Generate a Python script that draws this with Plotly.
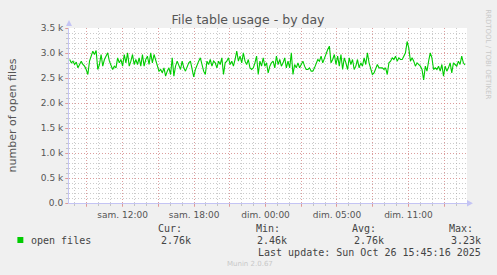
import plotly.graph_objects as go

# ---- data ----
# open files, sampled roughly every 8.3 minutes
values = [
    2870, 2803, 2837, 2770, 2817, 2703, 2770, 2837, 2770, 2737, 2670, 2570, 2837, 2937, 3037, 2970,
    3050, 2670, 2770, 2970, 2737, 2870, 2937, 3003, 2837, 2770, 2670, 2737, 2703, 2903, 2803, 2870,
    2737, 2970, 2803, 3003, 2737, 2837, 2970, 2770, 2870, 2770, 2903, 2737, 2970, 2737, 2870, 2937,
    2770, 3003, 2803, 2970, 2870, 2737, 2637, 2670, 2603, 2703, 2537, 2637, 2703, 2570, 2903, 2537,
    2737, 2837, 2737, 2670, 2837, 2703, 2637, 2737, 2803, 2837, 2703, 2523, 2670, 2770, 2837, 2903,
    2737, 2637, 2570, 2837, 2770, 2870, 2737, 2837, 2803, 2703, 2837, 2770, 2903, 2570, 2803, 2837,
    2903, 2770, 2837, 2737, 2870, 3037, 2837, 2937, 2803, 3003, 2837, 2770, 2870, 2703, 2670,
    2703, 2803, 2937, 2570, 2837, 2737, 2903, 2737, 2803, 2603, 2737, 2803, 2837, 2703, 2937, 2770,
    2870, 2737, 2803, 2903, 2703, 2837, 2703, 3003, 2570, 2770, 2703, 2803, 2703, 2770, 2837, 2737,
    2670, 2670, 2703, 2637, 2637, 2703, 2803, 2870, 2837, 2937, 2803, 2903, 2970, 3070, 3137, 2803,
    2870, 2970, 2770, 2937, 2737, 2970, 2670, 2903, 2803, 2670, 2903, 2770, 2870, 2670, 2737, 2870,
    2703, 2803, 2737, 2903, 2770, 3003, 2803, 2703, 2570, 2603, 2703, 2770, 2703, 2703, 2703, 2670,
    2703, 2570, 2803, 2837, 2903, 2870, 2937, 2837, 2903, 2870, 2870, 2937, 3003, 3230, 3103, 2837,
    2903, 2837, 2737, 2803, 2770, 2737, 2670, 2460, 2737, 2637, 2837, 3003, 2903, 2670, 2703, 2670,
    2737, 2637, 2770, 2537, 2737, 2637, 2703, 2803, 2603, 2803, 2770, 2737, 2837, 2770, 2937, 2803,
    2760,
]
start_hour = -4.444          # hours relative to "sam. 12:00"
step_hour = 1 / 7.2          # sample spacing in hours
hours = [start_hour + i * step_hour for i in range(len(values))]

tick_hours = [-3, 0, 3, 6, 9, 12, 15, 18, 21, 24, 27]
tick_labels = ["", "sam. 12:00", "", "sam. 18:00", "", "dim. 00:00", "", "dim. 05:00", "", "dim. 11:00", ""]
y_ticks = [0, 500, 1000, 1500, 2000, 2500, 3000, 3500]
y_labels = ["0.0", "0.5 k", "1.0 k", "1.5 k", "2.0 k", "2.5 k", "3.0 k", "3.5 k"]

series_name = "open files"
stat_names = ["Cur:", "Min:", "Avg:", "Max:"]
stat_values = ["2.76k", "2.46k", "2.76k", "3.23k"]
last_update = "Last update: Sun Oct 26 15:45:16 2025"

# ---- layout geometry ----
W, H = 497, 275
ML, MR, MT, MB = 66, 30, 28, 72
PW, PH = W - ML - MR, H - MT - MB


def px(x):
    return (x - ML) / PW


def py(y):
    return 1 - (y - MT) / PH


GREEN = "#00CC00"
AXIS = "#c4c4f4"
MAJ = "rgba(235,120,120,0.55)"
MIN = "rgba(160,160,160,0.55)"
TXT = "#555555"
MONO = "DejaVu Sans Mono"
SANS = "DejaVu Sans"

fig = go.Figure()
fig.add_trace(go.Scatter(x=hours, y=values, mode="lines",
                         line=dict(color=GREEN, width=1.1), showlegend=False,
                         hoverinfo="skip"))

fig.update_layout(
    width=W, height=H,
    margin=dict(l=ML, r=MR, t=MT, b=MB),
    paper_bgcolor="#F0F0F0", plot_bgcolor="#FFFFFF",
    showlegend=False,
    font=dict(family=SANS, size=9, color=TXT),
    title=dict(text="File table usage - by day", x=248 / W, xref="container", xanchor="center",
               y=1 - 20 / H, yanchor="middle", font=dict(size=12.5, color=TXT)),
)

fig.update_xaxes(
    range=[-4.5, 28.917], tickmode="array", tickvals=tick_hours, ticktext=tick_labels,
    showgrid=True, gridcolor=MAJ, griddash="1px,2px", gridwidth=1,
    zeroline=False, showline=True, linecolor=AXIS, linewidth=1,
    ticks="outside", ticklen=3, tickcolor=MAJ, tickfont=dict(size=9, color=TXT),
    minor=dict(tickmode="linear", tick0=0, dtick=1, showgrid=True, gridcolor=MIN,
               griddash="1px,2px", ticks="outside", ticklen=2, tickcolor=MIN),
    fixedrange=True,
)
fig.update_yaxes(
    range=[0, 3500], tickmode="array", tickvals=y_ticks, ticktext=y_labels,
    showgrid=True, gridcolor=MAJ, griddash="1px,2px", gridwidth=1,
    zeroline=False, showline=True, linecolor=AXIS, linewidth=1,
    ticks="outside", ticklen=3, tickcolor=MAJ, tickfont=dict(size=9, color=TXT),
    minor=dict(tickmode="linear", tick0=0, dtick=100, showgrid=True, gridcolor=MIN,
               griddash="1px,2px", ticks="outside", ticklen=2, tickcolor=MIN),
    title=dict(text="number of open files", font=dict(size=11, color=TXT), standoff=21),
    fixedrange=True,
)

# axis arrows
fig.add_shape(type="path", xref="paper", yref="paper",
              path=f"M {px(63)} {py(26)} L {px(69)} {py(26)} L {px(66)} {py(20)} Z",
              fillcolor=AXIS, line=dict(width=0))
fig.add_shape(type="path", xref="paper", yref="paper",
              path=f"M {px(467)} {py(200)} L {px(467)} {py(206.5)} L {px(473)} {py(203.3)} Z",
              fillcolor=AXIS, line=dict(width=0))

# legend square
fig.add_shape(type="rect", xref="paper", yref="paper",
              x0=px(14), x1=px(20), y0=py(243), y1=py(237),
              fillcolor=GREEN, line=dict(width=0))

ann = []
ann.append(dict(text=series_name, x=px(26), y=py(240), xanchor="left", yanchor="middle"))
label_left = [154, 252, 349, 447]
value_right = [190.5, 288, 385.5, 483]
for nm, lx, val, rx in zip(stat_names, label_left, stat_values, value_right):
    ann.append(dict(text=nm, x=px(lx), y=py(228), xanchor="left", yanchor="middle"))
    ann.append(dict(text=val, x=px(rx), y=py(240), xanchor="right", yanchor="middle"))
ann.append(dict(text=last_update, x=px(483), y=py(252), xanchor="right", yanchor="middle"))
for a in ann:
    a.update(xref="paper", yref="paper", showarrow=False,
             font=dict(family=MONO, size=10, color="#444444"))

ann.append(dict(text="Munin 2.0.67", x=px(248), y=py(264), xref="paper", yref="paper",
                showarrow=False, xanchor="center", yanchor="middle",
                font=dict(family=SANS, size=7, color="#c8c8c8")))
ann.append(dict(text="RRDTOOL / TOBI OETIKER", x=px(488), y=py(54), xref="paper", yref="paper",
                showarrow=False, xanchor="center", yanchor="middle", textangle=90,
                font=dict(family=SANS, size=7, color="#c8c8c8")))
fig.update_layout(annotations=ann)

fig.write_html("out.html", config={"displayModeBar": False})
